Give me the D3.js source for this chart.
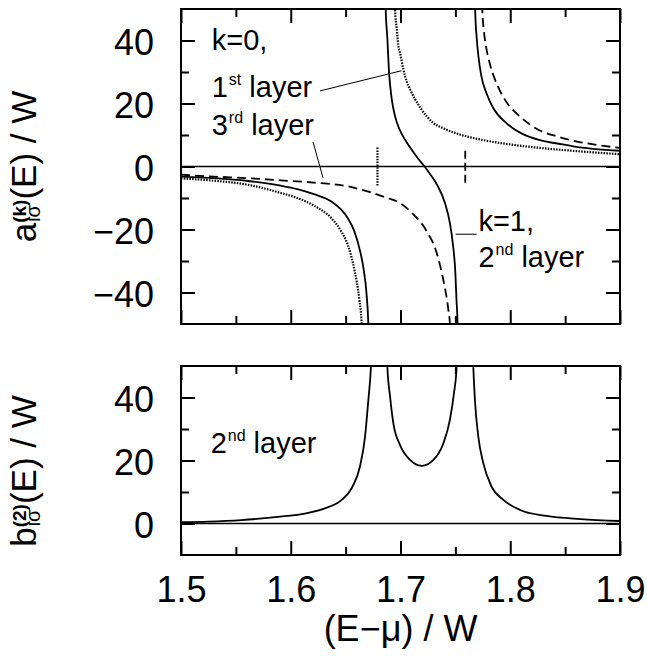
<!DOCTYPE html>
<html>
<head>
<meta charset="utf-8">
<script src="https://cdn.jsdelivr.net/npm/d3@7"></script>
<style>
  body { margin: 0; background: #fff; }
  svg { display: block; }
  text { font-family: "Liberation Sans", Arial, Helvetica, sans-serif; fill: #000; }
</style>
</head>
<body>
<svg id="chart" width="647" height="666"></svg>
<script>
// ticks
const xMajor = [1.5, 1.6, 1.7, 1.8, 1.9];
const xLabels = ["1.5", "1.6", "1.7", "1.8", "1.9"];
const xMinor = [1.55, 1.65, 1.75, 1.85];
const aMajor = [-40, -20, 0, 20, 40];
const aLabels = ["\u221240", "\u221220", "0", "20", "40"];
const aMinor = [-30, -10, 10, 30];
const bMajor = [0, 20, 40];
const bLabels = ["0", "20", "40"];
const bMinor = [10, 30];

// a^(0), 1st layer (dotted), [E, a]
const layer1Left = [[1.5,-3.8],[1.53,-4.5],[1.561,-5.8],[1.591,-8.4],[1.606,-10],[1.621,-12.4],[1.637,-16.4],
  [1.646,-20.6],[1.652,-24.9],[1.658,-32.8],[1.6625,-42.3],[1.6646,-50],[1.6652,-56]];
const layer1Right = [[1.6948,56],[1.695,50],[1.6965,44],[1.698,38.5],[1.6996,36],[1.7025,31],[1.7056,27],
  [1.7087,24.5],[1.7178,18.8],[1.73,13.8],[1.74,12],[1.75,10.6],[1.762,9.4],[1.775,8.4],[1.8,7],
  [1.83,5.8],[1.86,4.9],[1.9,3.9]];

// a^(1), 2nd layer (solid)
const layer2Left = [[1.5,-3.2],[1.53,-3.7],[1.561,-4.6],[1.591,-6.1],[1.606,-7.2],[1.621,-8.8],[1.637,-11.1],
  [1.646,-13.7],[1.652,-16.4],[1.658,-20.6],[1.6625,-25.9],[1.6665,-32.8],[1.669,-40.2],[1.6707,-50],[1.6712,-56]];
const layer2Mid = [[1.6862,56],[1.6865,50],[1.688,40.8],[1.6895,30.2],[1.692,21.5],[1.695,16],[1.6995,11.5],
  [1.705,8],[1.7117,4.6],[1.7165,2.3],[1.722,0],[1.7275,-2.7],[1.733,-5.6],[1.7405,-11.6],[1.745,-18],
  [1.748,-25.4],[1.75,-33.8],[1.751,-42.3],[1.752,-50],[1.7523,-56]];
const layer2Right = [[1.7677,56],[1.768,50],[1.7694,41],[1.771,35],[1.7735,29],[1.7786,23],[1.7846,18.5],
  [1.7968,13.7],[1.812,10.2],[1.827,8.4],[1.848,7],[1.8575,6.4],[1.9,5]];

// a^(0), 3rd layer (dashed)
const layer3Left = [[1.5,-2.6],[1.53,-3.2],[1.561,-3.7],[1.591,-4.4],[1.621,-5.1],[1.652,-6.3],[1.67,-7.9],
  [1.688,-10],[1.699,-11.5],[1.712,-15.3],[1.724,-20.6],[1.733,-27.5],[1.739,-36],[1.7436,-45.5],[1.745,-50],[1.7455,-56]];
const layer3Right = [[1.7742,56],[1.7745,50],[1.776,43],[1.778,38],[1.7815,32.5],[1.788,26],[1.7955,21],
  [1.81,15.5],[1.826,11.6],[1.843,9.5],[1.86,8],[1.88,6.8],[1.9,5.9]];

// pole markers
const dottedMarkE = 1.679;
const dashedMarkE = 1.759;
const markHalf = 6;

// b^(2), 2nd layer (solid)
const bLeft = [[1.5,0.4],[1.525,0.6],[1.555,1.1],[1.5857,2],[1.616,3.4],[1.631,4.8],[1.6464,7.5],[1.6555,11.2],
  [1.663,18],[1.6677,27.6],[1.6707,39.2],[1.6731,50],[1.6738,56]];
const bMid = [[1.6875,56],[1.688,50],[1.6905,40.3],[1.6935,31.8],[1.6996,24.9],[1.7087,20.2],[1.7193,18.3],
  [1.73,20.2],[1.739,25.4],[1.745,32.9],[1.7487,41.3],[1.7512,50],[1.7518,56]];
const bRight = [[1.7657,56],[1.7663,50],[1.7678,39.2],[1.7709,27.6],[1.7755,19.1],[1.783,11.7],[1.7937,7.5],
  [1.8089,4.3],[1.833,2.4],[1.864,1.4],[1.9,0.8]];

const svg = d3.select("#chart");
const x = d3.scaleLinear().domain([1.5, 1.9]).range([181, 620]);
const yA = d3.scaleLinear().domain([-50, 50]).range([324, 9]);
const yB = d3.scaleLinear().domain([-10, 50]).range([555, 366]);

const TICK = 36;

function panel(id, y, major, labels, minor, showX) {
    const [yb, yt] = y.range();
    const g = svg.append("g");

    svg.append("clipPath").attr("id", id)
        .append("rect").attr("x", x.range()[0]).attr("y", yt)
        .attr("width", x.range()[1] - x.range()[0]).attr("height", yb - yt);

    const styleAx = sel => {
        sel.select(".domain").remove();
        sel.selectAll("line").attr("stroke", "#000").attr("stroke-width", 2);
    };

    // x ticks bottom / top
    [[d3.axisBottom, yb], [d3.axisTop, yt]].forEach(([ax, ty]) => {
        g.append("g").attr("transform", `translate(0,${ty})`)
            .call(ax(x).tickValues(xMajor).tickSizeInner(-14).tickSizeOuter(0).tickFormat("")).call(styleAx);
        g.append("g").attr("transform", `translate(0,${ty})`)
            .call(ax(x).tickValues(xMinor).tickSizeInner(-8).tickSizeOuter(0).tickFormat("")).call(styleAx);
    });
    // y ticks left / right
    [[d3.axisLeft, x.range()[0]], [d3.axisRight, x.range()[1]]].forEach(([ax, tx]) => {
        g.append("g").attr("transform", `translate(${tx},0)`)
            .call(ax(y).tickValues(major).tickSizeInner(-14).tickSizeOuter(0).tickFormat("")).call(styleAx);
        g.append("g").attr("transform", `translate(${tx},0)`)
            .call(ax(y).tickValues(minor).tickSizeInner(-8).tickSizeOuter(0).tickFormat("")).call(styleAx);
    });

    // y labels
    g.append("g").attr("transform", `translate(${x.range()[0]},0)`)
        .call(d3.axisLeft(y).tickValues(major).tickSize(0).tickPadding(27)
            .tickFormat((d, i) => labels[i]))
        .call(sel => sel.select(".domain").remove())
        .call(sel => sel.selectAll("text").attr("font-size", TICK).attr("dy", "0.4em")
            .attr("font-family", "Liberation Sans, Arial, sans-serif"));

    if (showX) {
        g.append("g").attr("transform", `translate(0,${yb})`)
            .call(d3.axisBottom(x).tickValues(xMajor).tickSize(0).tickPadding(21)
                .tickFormat((d, i) => xLabels[i]))
            .call(sel => sel.select(".domain").remove())
            .call(sel => sel.selectAll("text").attr("font-size", TICK)
                .attr("font-family", "Liberation Sans, Arial, sans-serif"));
    }

    // zero line
    g.append("line").attr("x1", x.range()[0]).attr("x2", x.range()[1])
        .attr("y1", y(0)).attr("y2", y(0)).attr("stroke", "#000").attr("stroke-width", 1.4);

    // frame
    g.append("rect").attr("x", x.range()[0]).attr("y", yt)
        .attr("width", x.range()[1] - x.range()[0]).attr("height", yb - yt)
        .attr("fill", "none").attr("stroke", "#000").attr("stroke-width", 2);

    return svg.append("g").attr("clip-path", `url(#${id})`);
}

const DOT = "1.5,1.3", DASH = "9,5";

function curve(g, y, pts, dash) {
    const line = d3.line().x(d => x(d[0])).y(d => y(d[1])).curve(d3.curveMonotoneX);
    g.append("path").attr("d", line(pts)).attr("fill", "none")
        .attr("stroke", "#000").attr("stroke-width", dash === DOT ? 2.2 : 1.8)
        .attr("stroke-dasharray", dash || null);
}

// top panel
const gA = panel("clipA", yA, aMajor, aLabels, aMinor, false);
[layer1Left, layer1Right].forEach(s => curve(gA, yA, s, DOT));
[layer2Left, layer2Mid, layer2Right].forEach(s => curve(gA, yA, s));
[layer3Left, layer3Right].forEach(s => curve(gA, yA, s, DASH));
gA.append("line").attr("x1", x(dottedMarkE)).attr("x2", x(dottedMarkE))
    .attr("y1", yA(markHalf)).attr("y2", yA(-markHalf))
    .attr("stroke", "#000").attr("stroke-width", 2.2).attr("stroke-dasharray", DOT);
gA.append("line").attr("x1", x(dashedMarkE)).attr("x2", x(dashedMarkE))
    .attr("y1", yA(markHalf - 1)).attr("y2", yA(-markHalf))
    .attr("stroke", "#000").attr("stroke-width", 1.8).attr("stroke-dasharray", "8,4");

// bottom panel
const gB = panel("clipB", yB, bMajor, bLabels, bMinor, true);
[bLeft, bMid, bRight].forEach(s => curve(gB, yB, s));

// annotations
const ANN = 29, SUP = 16;
function ordinalLabel(ex, ey, y, num, sup, rest) {
    const t = svg.append("text").attr("x", x(ex)).attr("y", y(ey)).attr("font-size", ANN);
    t.append("tspan").text(num);
    t.append("tspan").attr("font-size", SUP).attr("dy", -12).attr("dx", 1).text(sup);
    t.append("tspan").attr("dy", 12).text(" " + rest);
}
svg.append("text").attr("x", x(1.528)).attr("y", yA(37)).attr("font-size", ANN).text("k=0,");
ordinalLabel(1.528, 22.2, yA, "1", "st", "layer");
ordinalLabel(1.528, 10.1, yA, "3", "rd", "layer");
svg.append("text").attr("x", x(1.771)).attr("y", yA(-20.6)).attr("font-size", ANN).text("k=1,");
ordinalLabel(1.771, -31.8, yA, "2", "nd", "layer");
ordinalLabel(1.527, 22.3, yB, "2", "nd", "layer");

// leader lines
const leaders = [
    [[1.6267, 24.0], [1.7009, 30.4]],
    [[1.6203, 7.8], [1.6294, -3.6]],
    [[1.7503, -21.5], [1.7694, -21.5]]
];
leaders.forEach(([p, q]) => {
    svg.append("line").attr("x1", x(p[0])).attr("y1", yA(p[1]))
        .attr("x2", x(q[0])).attr("y2", yA(q[1]))
        .attr("stroke", "#000").attr("stroke-width", 1);
});

// y axis titles
function yTitle(cy, base, sup, sub, rest) {
    const g = svg.append("g");
    let cx = 0;
    const t1 = g.append("text").attr("x", 0).attr("font-size", 35).text(base);
    cx += t1.node().getComputedTextLength();
    const t2 = g.append("text").attr("x", cx).attr("y", -10).attr("font-size", 19)
        .attr("font-weight", "bold").text(sup);
    const t3 = g.append("text").attr("x", cx + 1).attr("y", 4).attr("font-size", 20).text(sub);
    cx += Math.max(t2.node().getComputedTextLength(), t3.node().getComputedTextLength() + 1);
    const t4 = g.append("text").attr("x", cx).attr("font-size", 35).text(rest);
    cx += t4.node().getComputedTextLength();
    g.attr("transform", `translate(36,${cy}) rotate(-90) translate(${-cx / 2},0)`);
}
yTitle((yA.range()[0] + yA.range()[1]) / 2, "a", "(k)", "i\u03c3", "(E) / W");
yTitle(471, "b", "(2)", "i\u03c3", "(E) / W");

// x axis title
svg.append("text").attr("x", (x.range()[0] + x.range()[1]) / 2).attr("y", 641)
    .attr("text-anchor", "middle").attr("font-size", 36).text("(E\u2212\u03bc) / W");
</script>
</body>
</html>
